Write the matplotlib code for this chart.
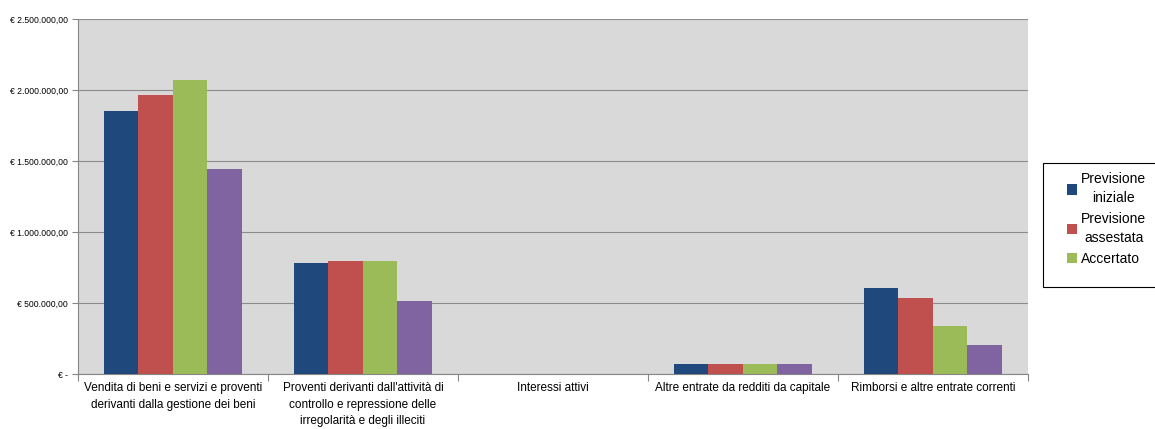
import numpy as np
import matplotlib
matplotlib.use("Agg")
import matplotlib.pyplot as plt
from matplotlib.patches import Rectangle
from matplotlib.ticker import FuncFormatter, MultipleLocator

categories = [
    "Vendita di beni e servizi e proventi\nderivanti dalla gestione dei beni",
    "Proventi derivanti dall'attività di\ncontrollo e repressione delle\nirregolarità e degli illeciti",
    "Interessi attivi",
    "Altre entrate da redditi da capitale",
    "Rimborsi e altre entrate correnti",
]
series_names = ["Previsione\niniziale", "Previsione\nassestata", "Accertato", "Riscosso"]
previsione_iniziale = [1852000, 782000, 3000, 68000, 606000]
previsione_assestata = [1965000, 796000, 3000, 68000, 535000]
accertato = [2070000, 796000, 3000, 68000, 338000]
riscosso = [1444000, 514000, 3000, 68000, 204000]
colors = ["#1F497D", "#C0504D", "#9BBB59", "#8064A2"]

plt.rcParams['font.family'] = ['Liberation Sans', 'DejaVu Sans']

fig = plt.figure(figsize=(11.55, 4.29), dpi=100)
ax = fig.add_axes([0.0675, 0.128, 0.8225, 0.8277])
ax.set_facecolor("#D9D9D9")

values = [previsione_iniziale, previsione_assestata, accertato, riscosso]
x = np.arange(len(categories))
w = 0.1815
bars = []
for i, (vals, name, c) in enumerate(zip(values, series_names, colors)):
    bars.append(ax.bar(x + (i - 1.5) * w, vals, w, color=c, label=name, zorder=3))

ax.set_xlim(-0.5, len(categories) - 0.5)
ax.set_ylim(0, 2500000)
ax.yaxis.set_major_locator(MultipleLocator(500000))


def euro(v, pos):
    if v == 0:
        return "€ -"
    s = f"{v:,.2f}".replace(",", "X").replace(".", ",").replace("X", ".")
    return "€ " + s


ax.yaxis.set_major_formatter(FuncFormatter(euro))
ax.grid(axis="y", color="#8C8C8C", linewidth=0.8, zorder=1)

ax.set_xticks(np.arange(len(categories) + 1) - 0.5, minor=False)
ax.set_xticklabels([])
ax.set_xticks(x, minor=True)
ax.set_xticklabels(categories, minor=True, fontsize=8.5, linespacing=1.5)
ax.tick_params(axis="x", which="minor", length=0, pad=6)
ax.tick_params(axis="x", which="major", length=5, color="#868686")
ax.tick_params(axis="y", labelsize=6.2, length=4, color="#868686", pad=3)

for side in ["top", "right"]:
    ax.spines[side].set_visible(False)
for side in ["left", "bottom"]:
    ax.spines[side].set_color("#868686")

# legend box runs off the right edge, only the first three series fit
fig.patches.append(Rectangle((0.903, 0.331), 0.2, 0.289, transform=fig.transFigure,
                             facecolor="white", edgecolor="black", linewidth=0.8))
leg = fig.legend(bars[:3], series_names[:3], loc="upper left",
                 bbox_to_anchor=(0.915, 0.621),
                 fontsize=10, frameon=False,
                 handlelength=0.75, handleheight=0.75, handletextpad=0.3,
                 borderpad=0.2, labelspacing=0.5)
for t in leg.get_texts():
    t.set_multialignment("center")
    t.set_linespacing(1.45)

fig.savefig("out.png", dpi=100)
